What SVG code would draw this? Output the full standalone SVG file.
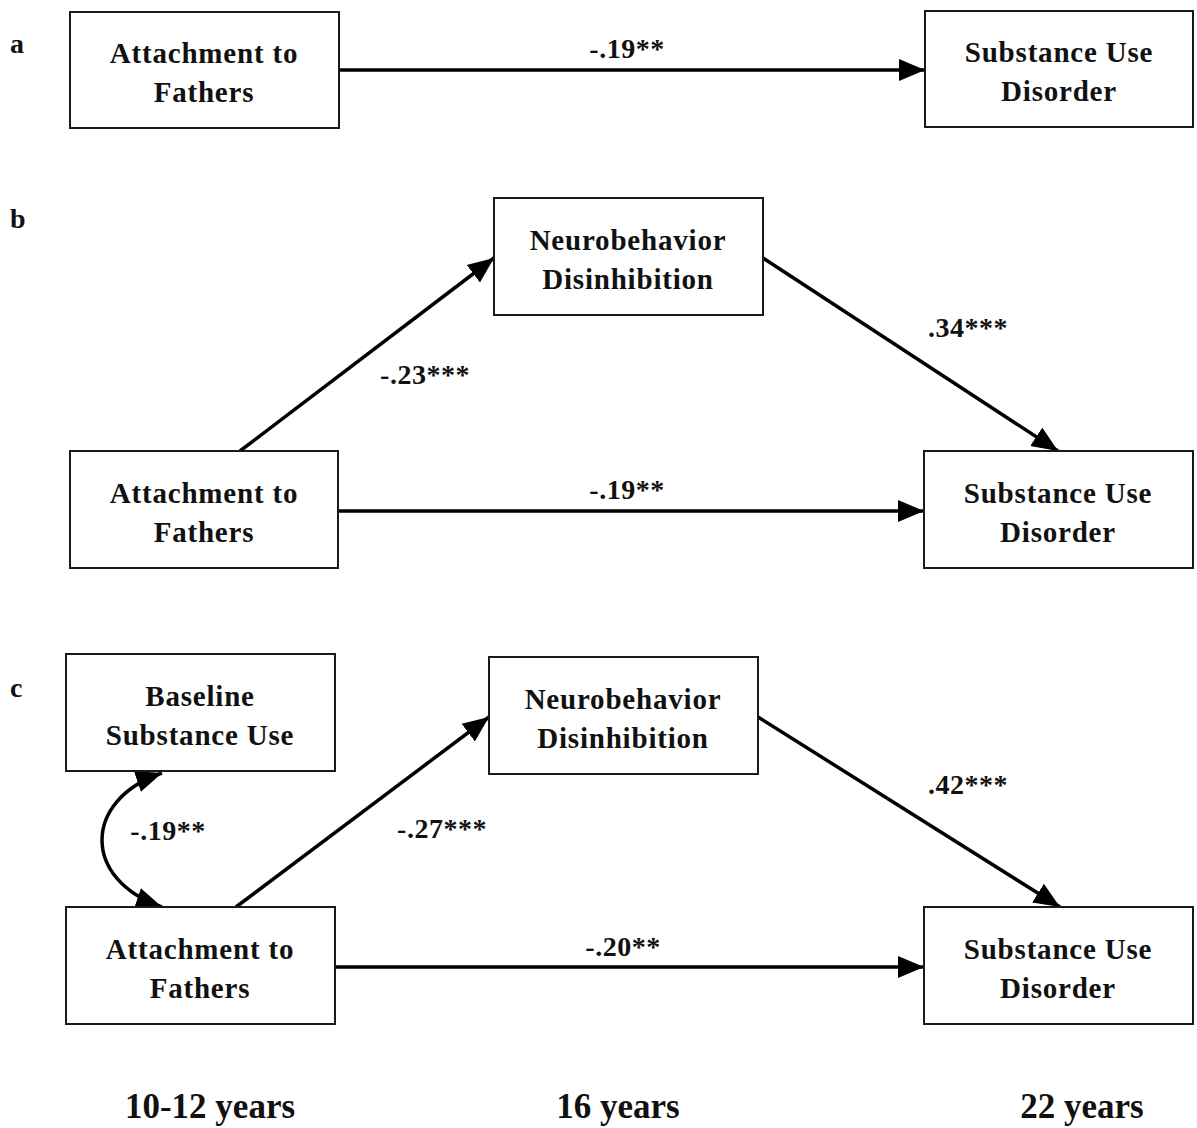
<svg xmlns="http://www.w3.org/2000/svg" width="1197" height="1128" viewBox="0 0 1197 1128">
<style>
.box{fill:#fff;stroke:#1a1a1a;stroke-width:2}
.t{font-family:"Liberation Serif","Times New Roman",serif;font-weight:bold;font-size:29px;letter-spacing:0.8px;fill:#111;text-anchor:middle}
.lab{font-family:"Liberation Serif","Times New Roman",serif;font-weight:bold;font-size:28px;fill:#111;text-anchor:middle;letter-spacing:0.5px}
.pan{font-family:"Liberation Serif","Times New Roman",serif;font-weight:bold;font-size:28px;fill:#111}
.yr{font-family:"Liberation Serif","Times New Roman",serif;font-weight:bold;font-size:35px;fill:#111;text-anchor:middle}
.ln{fill:none;stroke:#000;stroke-width:3.5}
</style>
<defs>
<marker id="ah" markerUnits="userSpaceOnUse" markerWidth="28" markerHeight="24" refX="26" refY="11" orient="auto-start-reverse" viewBox="0 0 28 22">
<path d="M0,0 L26,11 L0,22 Z" fill="#000"/>
</marker>
</defs>
<rect width="1197" height="1128" fill="#fff"/>
<text class="pan" x="10" y="53">a</text>
<text class="pan" x="10" y="228">b</text>
<text class="pan" x="10" y="697">c</text>
<g id="connectors">
<line class="ln" x1="339" y1="70" x2="925" y2="70" marker-end="url(#ah)"/>
<line class="ln" x1="240" y1="451" x2="494" y2="258" marker-end="url(#ah)"/>
<line class="ln" x1="763" y1="258" x2="1058" y2="451" marker-end="url(#ah)"/>
<line class="ln" x1="338" y1="511" x2="924" y2="511" marker-end="url(#ah)"/>
<path class="ln" d="M162,773 C82,800 82,880 162,907" marker-start="url(#ah)" marker-end="url(#ah)"/>
<line class="ln" x1="236" y1="907" x2="489" y2="717" marker-end="url(#ah)"/>
<line class="ln" x1="758" y1="717" x2="1060" y2="907" marker-end="url(#ah)"/>
<line class="ln" x1="335" y1="967" x2="924" y2="967" marker-end="url(#ah)"/>
</g>
<g id="labels">
<text class="lab" x="627" y="58">-.19**</text>
<text class="lab" x="425" y="384">-.23***</text>
<text class="lab" x="968" y="337">.34***</text>
<text class="lab" x="627" y="499">-.19**</text>
<text class="lab" x="168" y="840">-.19**</text>
<text class="lab" x="442" y="838">-.27***</text>
<text class="lab" x="968" y="794">.42***</text>
<text class="lab" x="623" y="956">-.20**</text>
</g>
<g id="a_attach"><rect class="box" x="70" y="12" width="269" height="116"/><text class="t" x="204" y="63">Attachment to</text><text class="t" x="204" y="102">Fathers</text></g>
<g id="a_sud"><rect class="box" x="925" y="11" width="268" height="116"/><text class="t" x="1059" y="62">Substance Use</text><text class="t" x="1059" y="101">Disorder</text></g>
<g id="b_neuro"><rect class="box" x="494" y="198" width="269" height="117"/><text class="t" x="628" y="250">Neurobehavior</text><text class="t" x="628" y="289">Disinhibition</text></g>
<g id="b_attach"><rect class="box" x="70" y="451" width="268" height="117"/><text class="t" x="204" y="503">Attachment to</text><text class="t" x="204" y="542">Fathers</text></g>
<g id="b_sud"><rect class="box" x="924" y="451" width="269" height="117"/><text class="t" x="1058" y="503">Substance Use</text><text class="t" x="1058" y="542">Disorder</text></g>
<g id="c_base"><rect class="box" x="66" y="654" width="269" height="117"/><text class="t" x="200" y="706">Baseline</text><text class="t" x="200" y="745">Substance Use</text></g>
<g id="c_neuro"><rect class="box" x="489" y="657" width="269" height="117"/><text class="t" x="623" y="709">Neurobehavior</text><text class="t" x="623" y="748">Disinhibition</text></g>
<g id="c_attach"><rect class="box" x="66" y="907" width="269" height="117"/><text class="t" x="200" y="959">Attachment to</text><text class="t" x="200" y="998">Fathers</text></g>
<g id="c_sud"><rect class="box" x="924" y="907" width="269" height="117"/><text class="t" x="1058" y="959">Substance Use</text><text class="t" x="1058" y="998">Disorder</text></g>
<text class="yr" x="210" y="1118">10-12 years</text>
<text class="yr" x="618" y="1118">16 years</text>
<text class="yr" x="1082" y="1118">22 years</text>
</svg>
